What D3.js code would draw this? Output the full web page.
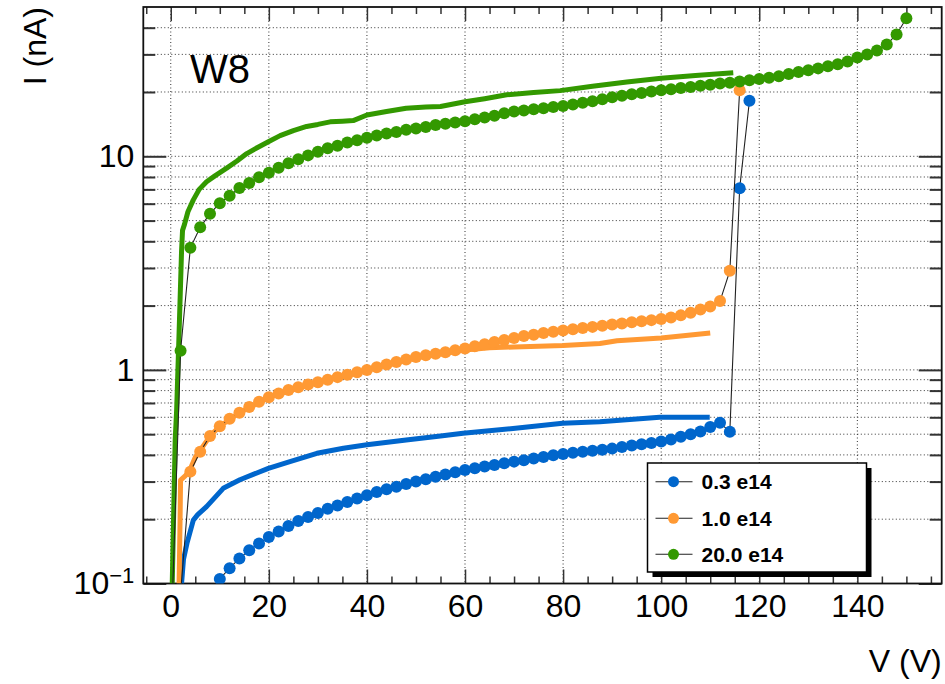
<!DOCTYPE html>
<html>
<head>
<meta charset="utf-8">
<script src="https://cdn.jsdelivr.net/npm/d3@7"></script>
<style>
  html, body { margin: 0; padding: 0; background: #fff; }
  svg { display: block; font-family: "Liberation Sans", Arial, Helvetica, sans-serif; }
</style>
</head>
<body>
<svg id="chart" width="945" height="684"></svg>
<script>
// ---------------- DATA ----------------
const xMajorTicks = [0, 20, 40, 60, 80, 100, 120, 140];
const xMinorTicks = [-5, 5, 10, 15, 25, 30, 35, 45, 50, 55, 65, 70, 75, 85, 90, 95, 105, 110, 115, 125, 130, 135, 145, 150, 155];
const yMajorTicks = [0.1, 1, 10];
const yMajorLabels = ["10^-1", "1", "10"];
const yMinorTicks = [0.2, 0.3, 0.4, 0.5, 0.6, 0.7, 0.8, 0.9, 2, 3, 4, 5, 6, 7, 8, 9, 20, 30, 40];

const seriesNames = ["0.3 e14", "1.0 e14", "20.0 e14"];
const seriesColors = ["#0066cc", "#ff9933", "#339900"];
const annotation = "W8";
const xTitle = "V (V)";
const yTitle = "I (nA)";

// measured points (markers), [V, I nA]
const blueMarkers = [
  [8,0.092],[10,0.105],[12,0.118],[14,0.131],[16,0.143],[18,0.154],[20,0.165],[22,0.175],[24,0.186],[26,0.196],
  [28,0.205],[30,0.214],[32,0.224],[34,0.232],[36,0.241],[38,0.250],[40,0.259],[42,0.268],[44,0.276],[46,0.284],
  [48,0.292],[50,0.300],[52,0.308],[54,0.316],[56,0.324],[58,0.332],[60,0.340],[62,0.346],[64,0.353],[66,0.359],
  [68,0.366],[70,0.372],[72,0.378],[74,0.385],[76,0.391],[78,0.398],[80,0.404],[82,0.409],[84,0.414],[86,0.418],
  [88,0.423],[90,0.428],[92,0.436],[94,0.443],[96,0.449],[98,0.455],[100,0.462],[102,0.472],[104,0.487],[106,0.500],
  [108,0.515],[110,0.540],[112,0.565],[114,0.513],[116,7.08],[118,18.2]
];
const orangeMarkers = [
  [2,0.09],[4,0.334],[6,0.414],[8,0.49],[10,0.545],[12,0.59],[14,0.63],[16,0.67],[18,0.71],[20,0.745],
  [22,0.775],[24,0.805],[26,0.83],[28,0.855],[30,0.875],[32,0.90],[34,0.925],[36,0.95],[38,0.975],[40,1.00],
  [42,1.03],[44,1.06],[46,1.09],[48,1.12],[50,1.15],[52,1.17],[54,1.19],[56,1.21],[58,1.235],[60,1.26],
  [62,1.29],[64,1.32],[66,1.35],[68,1.38],[70,1.41],[72,1.44],[74,1.46],[76,1.49],[78,1.51],[80,1.53],
  [82,1.55],[84,1.57],[86,1.59],[88,1.61],[90,1.63],[92,1.65],[94,1.67],[96,1.69],[98,1.71],[100,1.73],
  [102,1.76],[104,1.80],[106,1.85],[108,1.92],[110,1.98],[112,2.10],[114,2.91],[116,20.4]
];
const greenMarkers = [
  [0,0.05],[2,1.23],[4,3.73],[6,4.65],[8,5.39],[10,6.03],[12,6.54],[14,7.10],[16,7.50],[18,7.97],
  [20,8.38],[22,8.84],[24,9.27],[26,9.68],[28,10.1],[30,10.5],[32,10.9],[34,11.2],[36,11.6],[38,11.9],
  [40,12.2],[42,12.5],[44,12.8],[46,13.0],[48,13.3],[50,13.5],[52,13.7],[54,14.0],[56,14.2],[58,14.4],
  [60,14.6],[62,14.9],[64,15.2],[66,15.5],[68,15.9],[70,16.2],[72,16.4],[74,16.6],[76,16.8],[78,17.0],
  [80,17.2],[82,17.5],[84,17.8],[86,18.1],[88,18.5],[90,18.9],[92,19.2],[94,19.5],[96,19.8],[98,20.1],
  [100,20.4],[102,20.6],[104,20.9],[106,21.1],[108,21.4],[110,21.6],[112,21.9],[114,22.1],[116,22.4],[118,22.7],
  [120,23.0],[122,23.3],[124,23.7],[126,24.3],[128,24.8],[130,25.3],[132,25.8],[134,26.4],[136,27.0],[138,27.8],
  [140,29.0],[142,30.0],[144,31.3],[146,33.4],[148,37.2],[150,44.3]
];
// second measurement (solid lines), [V, I nA]
const blueLine = [
  [2.2,0.1],[2.6,0.13],[3.3,0.154],[4.6,0.198],[5.5,0.21],[7.3,0.229],[10.7,0.279],[14.1,0.306],[19.9,0.346],
  [24.3,0.372],[29.8,0.407],[35.2,0.43],[40,0.446],[48,0.47],[55,0.49],[59.6,0.505],[69.8,0.532],[79.9,0.563],
  [87.5,0.572],[90.9,0.58],[99.7,0.60],[109.9,0.60]
];
const orangeLine = [
  [1.7,0.1],[1.9,0.2],[2.0,0.305],[3.0,0.32],[4.0,0.345],[5,0.39],[6,0.42],[8,0.49],[10,0.545],[14,0.63],
  [20,0.745],[30,0.875],[40,1.0],[50,1.14],[56,1.2],[60,1.24],[65,1.27],[70,1.28],[75,1.29],[80,1.30],
  [87.5,1.33],[91,1.37],[100,1.41],[110,1.49]
];
const greenLine = [
  [0.3,0.1],[0.9,0.47],[1.2,0.65],[1.7,1.5],[2.2,3.6],[2.4,4.5],[2.8,4.8],[3.5,5.5],[4.6,6.25],[5.8,7.0],
  [7.3,7.6],[9,8.1],[11.4,8.8],[13.5,9.5],[15.5,10.3],[17.7,11.0],[19.9,11.7],[22.3,12.5],[25,13.2],[27.7,13.8],
  [30,14.1],[32.5,14.5],[35,14.6],[37.2,14.7],[40,15.6],[44,16.2],[48,16.8],[52,17.0],[55,17.1],[60,18.0],
  [64,18.6],[68.5,19.4],[74,19.9],[79.4,20.3],[86,21.3],[93,22.3],[100,23.2],[107,23.9],[114.7,24.6]
];

const markerSets = [blueMarkers, orangeMarkers, greenMarkers];
const lineSets = [blueLine, orangeLine, greenLine];

// ---------------- LAYOUT ----------------
const frame = { left: 143.3, top: 7, right: 941.7, bottom: 583.5 };
const svg = d3.select("#chart");

const x = d3.scaleLinear().domain([-5.6, 157.2]).range([frame.left, frame.right]);
const y = d3.scaleLog().domain([0.1, 50]).range([frame.bottom, frame.top]);

svg.append("defs").append("clipPath").attr("id", "clip")
  .append("rect")
  .attr("x", frame.left).attr("y", frame.top)
  .attr("width", frame.right - frame.left).attr("height", frame.bottom - frame.top);

// grid
const grid = svg.append("g").attr("stroke", "#333").attr("stroke-width", 1).attr("stroke-dasharray", "1,2.5");
grid.selectAll("line.vx").data(xMajorTicks).join("line")
  .attr("x1", d => x(d)).attr("x2", d => x(d))
  .attr("y1", frame.top).attr("y2", frame.bottom);
grid.selectAll("line.hy").data(yMajorTicks.concat(yMinorTicks)).join("line")
  .attr("x1", frame.left).attr("x2", frame.right)
  .attr("y1", d => y(d)).attr("y2", d => y(d));

// axes ticks
const tickColor = "#333";
function styleAxis(g, width) {
  g.select(".domain").remove();
  g.selectAll(".tick line").attr("stroke", tickColor).attr("stroke-width", width);
}
const fontSize = 32;

// bottom
svg.append("g").attr("transform", `translate(0,${frame.bottom})`)
  .call(d3.axisBottom(x).tickValues(xMajorTicks).tickSize(-14).tickPadding(11).tickFormat(d3.format("d")))
  .call(g => styleAxis(g, 1.5))
  .call(g => g.selectAll("text").attr("font-size", fontSize).attr("fill", "#000")
        .attr("font-family", "Liberation Sans, Arial, sans-serif"));
svg.append("g").attr("transform", `translate(0,${frame.bottom})`)
  .call(d3.axisBottom(x).tickValues(xMinorTicks).tickSize(-7).tickFormat(""))
  .call(g => styleAxis(g, 1.5));
// top
svg.append("g").attr("transform", `translate(0,${frame.top})`)
  .call(d3.axisTop(x).tickValues(xMajorTicks).tickSize(-14).tickFormat(""))
  .call(g => styleAxis(g, 1.5));
svg.append("g").attr("transform", `translate(0,${frame.top})`)
  .call(d3.axisTop(x).tickValues(xMinorTicks).tickSize(-7).tickFormat(""))
  .call(g => styleAxis(g, 1.5));
// left
const leftAxis = svg.append("g").attr("transform", `translate(${frame.left},0)`)
  .call(d3.axisLeft(y).tickValues(yMajorTicks).tickSize(-23).tickPadding(9)
        .tickFormat((d, i) => yMajorLabels[i]))
  .call(g => styleAxis(g, 2));
leftAxis.selectAll("text").attr("font-size", fontSize).attr("fill", "#000")
  .attr("font-family", "Liberation Sans, Arial, sans-serif")
  .each(function(d, i) {
    const lab = yMajorLabels[i];
    if (lab.includes("^")) {
      const [base, exp] = lab.split("^");
      const t = d3.select(this).text(null);
      t.append("tspan").text(base);
      t.append("tspan").attr("font-size", 22).attr("dy", -11).text(exp.replace("-", "\u2212"));
    }
  });
svg.append("g").attr("transform", `translate(${frame.left},0)`)
  .call(d3.axisLeft(y).tickValues(yMinorTicks).tickSize(-12).tickFormat(""))
  .call(g => styleAxis(g, 2));
// right
svg.append("g").attr("transform", `translate(${frame.right},0)`)
  .call(d3.axisRight(y).tickValues(yMajorTicks).tickSize(-23).tickFormat(""))
  .call(g => styleAxis(g, 2));
svg.append("g").attr("transform", `translate(${frame.right},0)`)
  .call(d3.axisRight(y).tickValues(yMinorTicks).tickSize(-12).tickFormat(""))
  .call(g => styleAxis(g, 2));

// frame
svg.append("rect")
  .attr("x", frame.left).attr("y", frame.top)
  .attr("width", frame.right - frame.left).attr("height", frame.bottom - frame.top)
  .attr("fill", "none").attr("stroke", "#111").attr("stroke-width", 1.8);

// data
const plot = svg.append("g").attr("clip-path", "url(#clip)");
const line = d3.line().x(d => x(d[0])).y(d => y(d[1]));

seriesNames.forEach((name, i) => {
  const col = seriesColors[i];
  plot.append("path").datum(lineSets[i])
    .attr("d", line).attr("fill", "none").attr("stroke", col)
    .attr("stroke-width", 5).attr("stroke-linejoin", "round");
  plot.append("path").datum(markerSets[i])
    .attr("d", line).attr("fill", "none").attr("stroke", "#222").attr("stroke-width", 1.1);
  plot.append("g").selectAll("circle").data(markerSets[i]).join("circle")
    .attr("cx", d => x(d[0])).attr("cy", d => y(d[1])).attr("r", 6).attr("fill", col);
});

// annotation
svg.append("text").attr("x", 190).attr("y", 83).attr("font-size", 40).attr("fill", "#000")
  .text(annotation);

// axis titles
svg.append("text").attr("x", frame.right).attr("y", 672).attr("text-anchor", "end")
  .attr("font-size", 32).attr("fill", "#000").text(xTitle);
svg.append("text").attr("transform", `translate(46,${frame.top}) rotate(-90)`)
  .attr("text-anchor", "end").attr("font-size", 32).attr("fill", "#000").text(yTitle);

// legend
const lg = { x: 647.5, y: 463, w: 219, h: 109 };
svg.append("rect").attr("x", lg.x + 5).attr("y", lg.y + 5).attr("width", lg.w).attr("height", lg.h).attr("fill", "#000");
svg.append("rect").attr("x", lg.x).attr("y", lg.y).attr("width", lg.w).attr("height", lg.h)
  .attr("fill", "#fff").attr("stroke", "#000").attr("stroke-width", 1.5);
const entryY = [481.7, 518.3, 554.3];
seriesNames.forEach((name, i) => {
  const g = svg.append("g");
  g.append("line").attr("x1", lg.x + 8).attr("x2", lg.x + 45).attr("y1", entryY[i]).attr("y2", entryY[i])
    .attr("stroke", "#222").attr("stroke-width", 1.1);
  g.append("circle").attr("cx", lg.x + 26).attr("cy", entryY[i]).attr("r", 5.5).attr("fill", seriesColors[i]);
  g.append("text").attr("x", lg.x + 54).attr("y", entryY[i] + 7.5).attr("font-size", 21)
    .attr("font-weight", "bold").attr("fill", "#000").text(name);
});
</script>
</body>
</html>
